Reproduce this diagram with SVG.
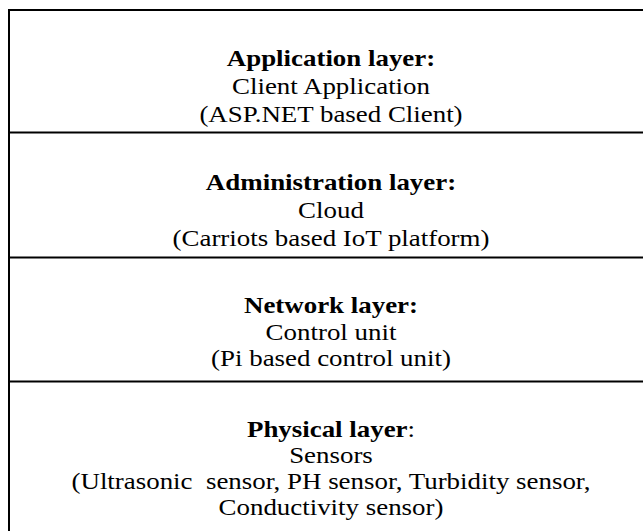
<svg xmlns="http://www.w3.org/2000/svg" width="643" height="531" viewBox="0 0 643 531">
<style>
text{font-family:"Liberation Serif","Times New Roman",serif;font-size:23px;fill:#000;text-anchor:middle}
.b{font-weight:bold}
.frame{fill:none;stroke:#000;stroke-width:2}
.t{transform:matrix(1.17,0,0,1,-56.27,0)}
</style>
<rect width="643" height="531" fill="#fff"/>
<g id="frame">
<rect class="frame" x="9" y="10" width="650" height="540"/>
</g>
<g id="connectors">
<line class="frame" x1="9" y1="132.5" x2="660" y2="132.5"/>
<line class="frame" x1="9" y1="257.5" x2="660" y2="257.5"/>
<line class="frame" x1="9" y1="381.5" x2="660" y2="381.5"/>
</g>
<g id="application" class="t">
<text x="331" y="66" class="b">Application layer:</text>
<text x="331" y="94">Client Application</text>
<text x="331" y="122">(ASP.NET based Client)</text>
</g>
<g id="administration" class="t">
<text x="331" y="190" class="b">Administration layer:</text>
<text x="331" y="218">Cloud</text>
<text x="331" y="246">(Carriots based IoT platform)</text>
</g>
<g id="network" class="t">
<text x="331" y="313" class="b">Network layer:</text>
<text x="331" y="340">Control unit</text>
<text x="331" y="366">(Pi based control unit)</text>
</g>
<g id="physical" class="t">
<text x="331" y="437"><tspan class="b">Physical layer</tspan>:</text>
<text x="331" y="463">Sensors</text>
<text x="331" y="489">(Ultrasonic&#160; sensor, PH sensor, Turbidity sensor,</text>
<text x="331" y="515">Conductivity sensor)</text>
</g>
</svg>
